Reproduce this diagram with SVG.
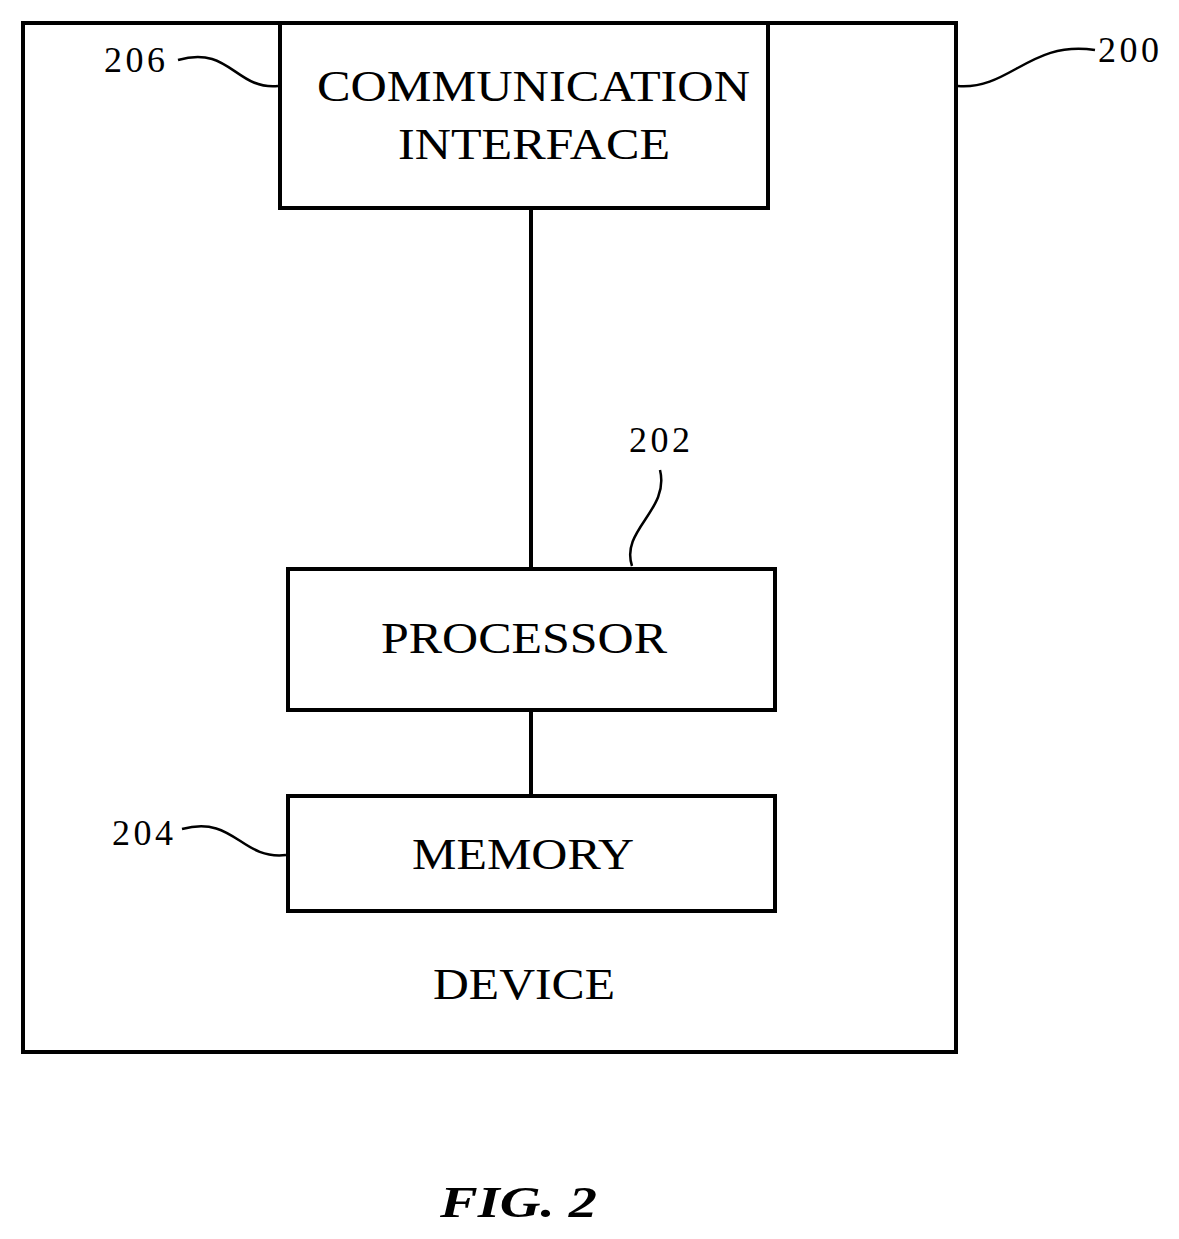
<svg xmlns="http://www.w3.org/2000/svg" width="1179" height="1239" viewBox="0 0 1179 1239">
<style>
.b{fill:none;stroke:#000;stroke-width:4}
.l{fill:none;stroke:#000;stroke-width:2.5}
text{font-family:"Liberation Serif",serif;font-size:44px;fill:#000}
.n{font-size:36px}
</style>
<rect width="1179" height="1239" fill="#fff"/>
<g id="device"><rect class="b" x="23" y="23" width="933" height="1029"/><text x="524" y="999" text-anchor="middle" textLength="182" lengthAdjust="spacingAndGlyphs">DEVICE</text></g>
<g id="comm"><rect class="b" x="280" y="23" width="488" height="185"/><text x="317" y="101" textLength="433" lengthAdjust="spacingAndGlyphs">COMMUNICATION</text><text x="398" y="159" textLength="272" lengthAdjust="spacingAndGlyphs">INTERFACE</text></g>
<g id="proc"><rect class="b" x="288" y="569" width="487" height="141"/><text x="381" y="653" textLength="286" lengthAdjust="spacingAndGlyphs">PROCESSOR</text></g>
<g id="mem"><rect class="b" x="288" y="796" width="487" height="115"/><text x="412" y="869" textLength="222" lengthAdjust="spacingAndGlyphs">MEMORY</text></g>
<g id="connectors">
<line class="b" x1="531" y1="208" x2="531" y2="569"/>
<line class="b" x1="531" y1="710" x2="531" y2="796"/>
<path class="l" d="M178 60 C230 45 235 90 278 86"/>
<path class="l" d="M958 86 C1010 90 1030 40 1095 50"/>
<path class="l" d="M660 470 C670 510 620 530 632 566"/>
<path class="l" d="M182 829 C235 815 240 860 286 855"/>
</g>
<g id="labels">
<text class="n" x="104" y="72" textLength="61">206</text>
<text class="n" x="1098" y="62" textLength="61">200</text>
<text class="n" x="629" y="452" textLength="61">202</text>
<text class="n" x="112" y="845" textLength="61">204</text>
<text x="440" y="1217" font-style="italic" font-weight="bold" font-size="58" textLength="157" lengthAdjust="spacingAndGlyphs">FIG. 2</text>
</g>
</svg>
